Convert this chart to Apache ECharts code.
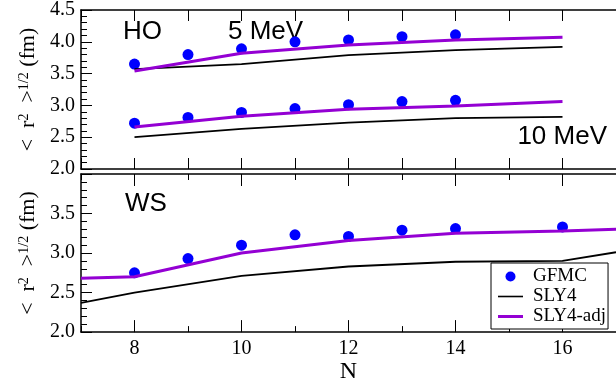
<!DOCTYPE html>
<html><head><meta charset="utf-8">
<script src="https://cdn.jsdelivr.net/npm/echarts@6/dist/echarts.min.js"></script>
<style>html,body{margin:0;padding:0;background:#fff}#c{width:616px;height:385px}</style>
</head><body><div id="c"></div>
<script>
// ---- data ----
const hoN = [8, 9, 10, 11, 12, 13, 14];
const hoGfmc5 = [3.65, 3.80, 3.89, 4.00, 4.03, 4.08, 4.11];
const hoGfmc10 = [2.72, 2.81, 2.89, 2.95, 3.01, 3.06, 3.08];
const hoLineN = [8, 10, 12, 14, 16];
const hoSly5 = [3.57, 3.65, 3.79, 3.87, 3.92];
const hoAdj5 = [3.54, 3.82, 3.95, 4.03, 4.07];
const hoSly10 = [2.50, 2.63, 2.73, 2.80, 2.82];
const hoAdj10 = [2.66, 2.83, 2.94, 2.99, 3.06];
const wsN = [8, 9, 10, 11, 12, 13, 14, 16];
const wsGfmc = [2.75, 2.93, 3.10, 3.23, 3.21, 3.29, 3.31, 3.33];
const wsLineN = [7, 8, 10, 12, 14, 16, 17];
const wsSly = [2.37, 2.50, 2.71, 2.83, 2.89, 2.90, 3.01];
const wsAdj = [2.68, 2.70, 3.00, 3.16, 3.25, 3.28, 3.30];
const xTickLabels = [8, 10, 12, 14, 16];
const yTickLabelsTop = [2.0, 2.5, 3.0, 3.5, 4.0, 4.5];
const yTickLabelsBottom = [2.0, 2.5, 3.0, 3.5];
const legendNames = ['GFMC', 'SLY4', 'SLY4-adj'];

const zip = (xs, ys) => xs.map((x, i) => [x, ys[i]]);
const SERIF = "'Liberation Serif', 'Times New Roman', serif";
const SANS = "'Liberation Sans', Arial, sans-serif";
const BLUE = '#0000ff', VIOLET = '#9400d3', BLACK = '#000000';

const axLine = {show: true, onZero: false, lineStyle: {color: '#000', width: 1.5}};
function xAx(grid, pos, extra) {
  return Object.assign({
    type: 'value', gridIndex: grid, position: pos, min: 7, max: 17, interval: 1,
    axisLine: axLine,
    axisTick: {show: true, inside: true, length: 11, lineStyle: {color: '#000'}},
    axisLabel: {show: false}, splitLine: {show: false}
  }, extra || {});
}
const yName = '{t|<  r}{s|2}{t|  >}{s|1/2}{t| (fm)}';
const yNameStyle = {
  rich: {
    t: {fontFamily: SERIF, fontSize: 22, color: '#000', lineHeight: 22, padding: [9, 0, 0, 0], verticalAlign: 'bottom'},
    s: {fontFamily: SERIF, fontSize: 14, color: '#000', lineHeight: 15, verticalAlign: 'top'}
  }
};
function yAx(grid, max, labels) {
  return {
    type: 'value', gridIndex: grid, min: 2, max: max, interval: 0.5,
    axisLine: axLine,
    axisTick: {show: true, inside: true, length: 11, lineStyle: {color: '#000'}},
    minorTick: {show: true, splitNumber: 5, length: 6, lineStyle: {color: '#000'}},
    splitLine: {show: false}, minorSplitLine: {show: false},
    axisLabel: {customValues: labels, formatter: v => v.toFixed(1), fontFamily: SERIF, fontSize: 20, color: '#000', margin: 6},
    name: yName, nameLocation: 'middle', nameRotate: 90, nameGap: 42, nameTextStyle: yNameStyle
  };
}

const chart = echarts.init(document.getElementById('c'));
chart.setOption({
  animation: false,
  backgroundColor: '#fff',
  grid: [
    {left: 79, top: 10, width: 539, height: 159},
    {left: 79, top: 174, width: 539, height: 159}
  ],
  xAxis: [
    xAx(0, 'bottom'),
    xAx(0, 'top'),
    xAx(1, 'bottom', {
      axisTick: {show: true, inside: true, length: 12, customValues: xTickLabels, lineStyle: {color: '#000'}},
      axisLabel: {show: true, customValues: xTickLabels, fontFamily: SERIF, fontSize: 20, color: '#000', margin: 7},
      name: 'N', nameLocation: 'middle', nameGap: 27,
      nameTextStyle: {fontFamily: SERIF, fontSize: 24, color: '#000'}
    }),
    xAx(1, 'bottom', {axisLine: {show: false}, axisTick: {show: true, inside: true, length: 6, lineStyle: {color: '#000'}}}),
    xAx(1, 'top', {axisTick: {show: true, inside: true, length: 12, customValues: xTickLabels, lineStyle: {color: '#000'}}}),
    xAx(1, 'top', {axisLine: {show: false}, axisTick: {show: true, inside: true, length: 6, lineStyle: {color: '#000'}}})
  ],
  yAxis: [
    yAx(0, 4.5, yTickLabelsTop),
    yAx(1, 4.0, yTickLabelsBottom)
  ],
  legend: {
    left: 491, top: 263, orient: 'vertical',
    itemWidth: 25, itemHeight: 10, itemGap: 1,
    padding: [4, 2, 3, 7],
    borderColor: '#000', borderWidth: 1, borderRadius: 0, backgroundColor: '#fff',
    symbolKeepAspect: true,
    textStyle: {fontFamily: SERIF, fontSize: 19, color: '#000', padding: [0, 0, 0, 5]},
    data: [
      {name: legendNames[0], icon: 'circle'},
      {name: legendNames[1], icon: 'path://M0,0L25,0L25,1.6L0,1.6Z'},
      {name: legendNames[2], icon: 'path://M0,0L25,0L25,3L0,3Z'}
    ]
  },
  graphic: [
    {type: 'text', x: 123, y: 32, style: {text: 'HO', font: '26px ' + SANS, fill: '#000', verticalAlign: 'middle'}},
    {type: 'text', x: 228, y: 32, style: {text: '5 MeV', font: '26px ' + SANS, fill: '#000', verticalAlign: 'middle'}},
    {type: 'text', x: 607, y: 137, style: {text: '10 MeV', font: '26px ' + SANS, fill: '#000', align: 'right', verticalAlign: 'middle'}},
    {type: 'text', x: 125, y: 204, style: {text: 'WS', font: '26px ' + SANS, fill: '#000', verticalAlign: 'middle'}}
  ],
  series: [
    {name: 'SLY4', type: 'line', xAxisIndex: 0, yAxisIndex: 0, data: zip(hoLineN, hoSly5), symbol: 'none', lineStyle: {color: BLACK, width: 1.8}, itemStyle: {color: BLACK}},
    {name: 'SLY4', type: 'line', xAxisIndex: 0, yAxisIndex: 0, data: zip(hoLineN, hoSly10), symbol: 'none', lineStyle: {color: BLACK, width: 1.8}, itemStyle: {color: BLACK}},
    {name: 'SLY4-adj', type: 'line', xAxisIndex: 0, yAxisIndex: 0, data: zip(hoLineN, hoAdj5), symbol: 'none', lineStyle: {color: VIOLET, width: 3}, itemStyle: {color: VIOLET}},
    {name: 'SLY4-adj', type: 'line', xAxisIndex: 0, yAxisIndex: 0, data: zip(hoLineN, hoAdj10), symbol: 'none', lineStyle: {color: VIOLET, width: 3}, itemStyle: {color: VIOLET}},
    {name: 'GFMC', type: 'scatter', xAxisIndex: 0, yAxisIndex: 0, data: zip(hoN, hoGfmc5), symbol: 'circle', symbolSize: 11, itemStyle: {color: BLUE, opacity: 1}},
    {name: 'GFMC', type: 'scatter', xAxisIndex: 0, yAxisIndex: 0, data: zip(hoN, hoGfmc10), symbol: 'circle', symbolSize: 11, itemStyle: {color: BLUE, opacity: 1}},
    {name: 'SLY4', type: 'line', xAxisIndex: 2, yAxisIndex: 1, data: zip(wsLineN, wsSly), symbol: 'none', lineStyle: {color: BLACK, width: 1.8}, itemStyle: {color: BLACK}},
    {name: 'SLY4-adj', type: 'line', xAxisIndex: 2, yAxisIndex: 1, data: zip(wsLineN, wsAdj), symbol: 'none', lineStyle: {color: VIOLET, width: 3}, itemStyle: {color: VIOLET}},
    {name: 'GFMC', type: 'scatter', xAxisIndex: 2, yAxisIndex: 1, data: zip(wsN, wsGfmc), symbol: 'circle', symbolSize: 11, itemStyle: {color: BLUE, opacity: 1}}
  ]
});
</script>
</body></html>
